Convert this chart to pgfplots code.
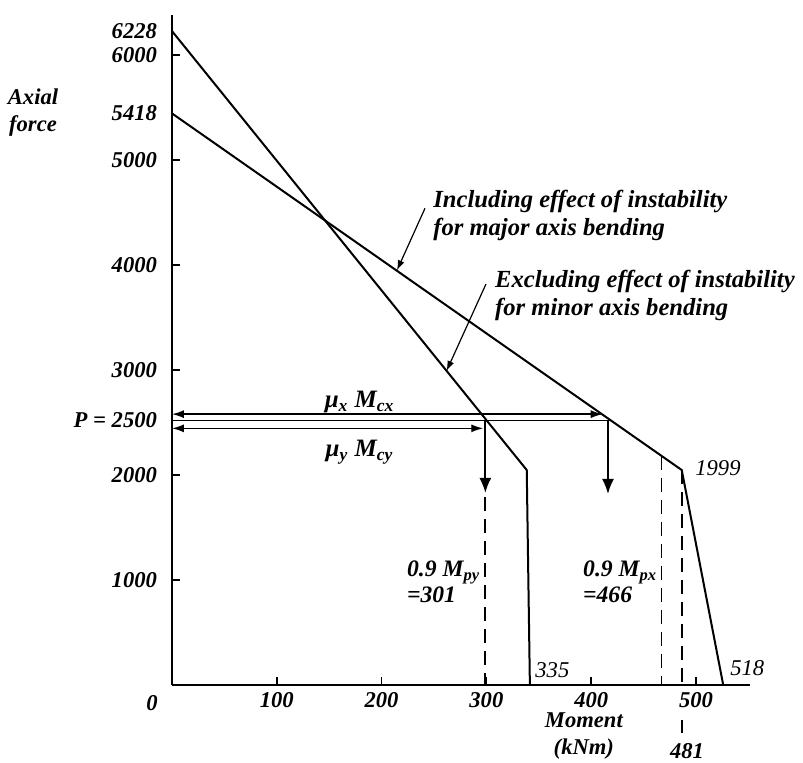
\documentclass[border=0pt]{standalone}
\usepackage{pgfplots}
\pgfplotsset{compat=1.18}
\usepackage{fontspec}
\setmainfont{Liberation Serif}
\usetikzlibrary{arrows.meta}

\begin{document}
\begin{tikzpicture}[font=\fontsize{11.3}{13.5}\selectfont\bfseries\itshape]
\begin{axis}[
  scale only axis, width=289pt, height=335pt,
  xmin=0, xmax=551.5, ymin=0, ymax=6380,
  axis x line=bottom, axis y line=left,
  axis line style={-, line width=1pt},
  tick align=inside, major tick length=4pt,
  tick style={black, line width=0.8pt},
  xtick={100,200,300,400,500}, xticklabels={100,200,300,400,500},
  ytick={1000,2000,3000,4000,5000,6000},
  yticklabels={1000,2000,3000,4000,5000,6000},
  xticklabel style={yshift=0pt},
  yticklabel style={xshift=-4pt},
  clip=false,
]
% interaction curves
\addplot[black, line width=1pt] coordinates {(0,6228) (338.5,2048) (341.5,0)};
\addplot[black, line width=1pt] coordinates {(0,5444) (486.4,2048) (526,0)};
% dashed verticals
\addplot[black, line width=0.9pt, dash pattern=on 7pt off 4pt] coordinates {(299,1790) (299,0)};
\addplot[black, line width=0.9pt, dash pattern=on 7pt off 4pt] coordinates {(467,2184) (467,0)};
\addplot[black, line width=0.9pt, dash pattern=on 7pt off 4pt] coordinates {(487,2048) (487,0)};
\addplot[black, line width=0.9pt] coordinates {(487,-333) (487,-457)};
% P = 2500 line and arrows
\addplot[black, line width=0.8pt] coordinates {(0,2520) (419,2520)};
\addplot[black, line width=0.7pt, {Latex[length=6pt,width=4pt]}-{Latex[length=6pt,width=4pt]}] coordinates {(0,2580) (411,2580)};
\addplot[black, line width=0.7pt, {Latex[length=6pt,width=4pt]}-{Latex[length=6pt,width=4pt]}] coordinates {(0,2445) (297,2445)};
\addplot[black, line width=0.9pt, -{Latex[length=7.5pt,width=6pt]}] coordinates {(299,2520) (299,1830)};
\addplot[black, line width=0.9pt, -{Latex[length=7.5pt,width=6pt]}] coordinates {(416,2520) (416,1820)};
% annotation arrows
\addplot[black, line width=0.6pt, -{Latex[length=5pt,width=3.5pt]}] coordinates {(241.4,4540) (214.7,3950)};
\addplot[black, line width=0.6pt, -{Latex[length=5pt,width=3.5pt]}] coordinates {(299.6,3819) (262,2992)};

% extra y labels
\node[anchor=east, xshift=-4pt] at (axis cs:0,6228) {6228};
\node[anchor=east, xshift=-4pt] at (axis cs:0,5450) {5418};
\node[anchor=east, xshift=-4pt] at (axis cs:0,2520) {P = 2500};
\node at (axis cs:-19,-171) {0};
\node[align=center] at (axis cs:-132.6,5448) {Axial\\force};
\node[align=center] at (axis cs:393,-486) {Moment\\(kNm)};
\node at (axis cs:491.4,-629) {481};
\node[anchor=west, inner sep=0pt] at (axis cs:346.4,143) {\mdseries 335};
\node[anchor=west, inner sep=0pt] at (axis cs:532.4,162) {\mdseries 518};
\node[anchor=west, inner sep=0pt] at (axis cs:499,2067) {\mdseries 1999};
\node[anchor=west, inner sep=0pt, align=left, font=\fontsize{12.3}{14}\selectfont\bfseries\itshape] at (axis cs:249,4470) {Including effect of instability\\for major axis bending};
\node[anchor=west, inner sep=0pt, align=left, font=\fontsize{12.3}{14}\selectfont\bfseries\itshape] at (axis cs:308,3710) {Excluding effect of instability\\for minor axis bending};
\node[font=\fontsize{12.5}{14}\selectfont\bfseries\itshape] at (axis cs:179,2695) {μ\textsubscript{x} M\textsubscript{cx}};
\node[font=\fontsize{12.5}{14}\selectfont\bfseries\itshape] at (axis cs:179,2219) {μ\textsubscript{y} M\textsubscript{cy}};
\node[anchor=west, inner sep=0pt, align=left, font=\fontsize{11.8}{13}\selectfont\bfseries\itshape] at (axis cs:224,981) {0.9 M\textsubscript{py}\\=301};
\node[anchor=west, inner sep=0pt, align=left, font=\fontsize{11.8}{13}\selectfont\bfseries\itshape] at (axis cs:392,981) {0.9 M\textsubscript{px}\\=466};

\coordinate (bbbl) at (axis cs:-164.1,-733.3);
\coordinate (bbtr) at (axis cs:602.1,6523.8);
\end{axis}
\pgfresetboundingbox
\path[use as bounding box] (bbbl) rectangle (bbtr);
\end{tikzpicture}
\end{document}
